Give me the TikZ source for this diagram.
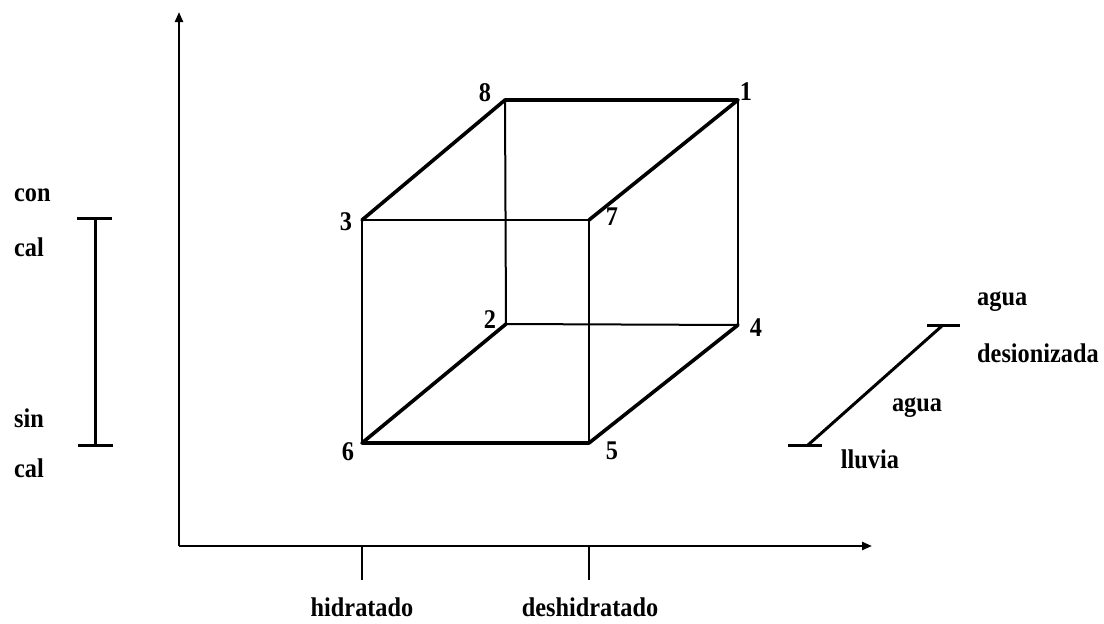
\documentclass[tikz,border=0pt]{standalone}
\usepackage{fontspec}
\setmainfont{Liberation Serif}[FakeStretch=0.9]
\usetikzlibrary{arrows.meta}
\begin{document}
\begin{tikzpicture}[x=1pt,y=-1pt,
  lbl/.style={font=\fontsize{27}{30}\selectfont\bfseries, inner sep=0pt},
  axisline/.style={line width=2.4pt},
  thickedge/.style={line width=3.6pt, line cap=round, line join=round},
  thinedge/.style={line width=2pt},
  bar/.style={line width=3pt},
  tip/.style={-{Triangle[length=10pt,width=8pt]}}]
\useasboundingbox (0,0) rectangle (1104,624);
% axes
\coordinate (O) at (179,546);
\coordinate (ytop) at (179,12);
\coordinate (xend) at (872,546);
\draw[axisline,tip] (O) -- (ytop);
\draw[axisline,tip] (O) -- (xend);
% x ticks
\coordinate (h1) at (362,546); \coordinate (h2) at (362,580);
\coordinate (d1) at (589,546); \coordinate (d2) at (589,580);
\draw[axisline] (h1) -- (h2);
\draw[axisline] (d1) -- (d2);
\node[lbl] (hid) at (362,607) {hidratado};
\node[lbl] (deshid) at (590,607) {deshidratado};
% cube corners
\coordinate (c8) at (505,100);
\coordinate (c1) at (738,100);
\coordinate (c3) at (362,220);
\coordinate (c7) at (589,220);
\coordinate (c2) at (506,324);
\coordinate (c4) at (738,325);
\coordinate (c6) at (362,443);
\coordinate (c5) at (589,443);
% thin edges
\draw[thinedge] (c8) -- (c2);
\draw[thinedge] (c7) -- (c5);
\draw[thinedge] (c3) -- (c7);
\draw[thinedge] (c3) -- (c6);
\draw[thinedge] (c1) -- (c4);
\draw[thinedge] (c2) -- (c4);
% thick edges
\draw[thickedge] (c3) -- (c8) -- (c1) -- (c7);
\draw[thickedge] (c2) -- (c6) -- (c5) -- (c4);
% corner labels
\node[lbl] (n8) at (485,93) {8};
\node[lbl] (n1) at (746,92) {1};
\node[lbl] (n3) at (346,222) {3};
\node[lbl] (n7) at (612,217) {7};
\node[lbl] (n2) at (490,320) {2};
\node[lbl] (n4) at (756,328) {4};
\node[lbl] (n6) at (348,452) {6};
\node[lbl] (n5) at (612,451) {5};
% left scale
\coordinate (lt) at (95,218); \coordinate (lb) at (95,445);
\coordinate (ltl) at (77,218); \coordinate (ltr) at (112,218);
\coordinate (lbl1) at (78,445); \coordinate (lbr) at (113,445);
\draw[bar] (lt) -- (lb);
\draw[bar] (ltl) -- (ltr);
\draw[bar] (lbl1) -- (lbr);
\node[lbl,anchor=west] (con) at (14,195) {con};
\node[lbl,anchor=west] (cal1) at (14,247) {cal};
\node[lbl,anchor=west] (sin) at (14,418) {sin};
\node[lbl,anchor=west] (cal2) at (14,468) {cal};
% right scale
\coordinate (rt) at (943,325); \coordinate (rb) at (808,445);
\coordinate (rtl) at (927,325); \coordinate (rtr) at (960,325);
\coordinate (rbl) at (788,445); \coordinate (rbr) at (822,445);
\draw[bar] (rt) -- (rb);
\draw[bar] (rtl) -- (rtr);
\draw[bar] (rbl) -- (rbr);
\node[lbl,anchor=west] (agua1) at (977,302) {agua};
\node[lbl,anchor=west] (desion) at (977,353) {desionizada};
\node[lbl] (agua2) at (917,408) {agua};
\node[lbl] (lluvia) at (870,459) {lluvia};
\end{tikzpicture}
\end{document}
